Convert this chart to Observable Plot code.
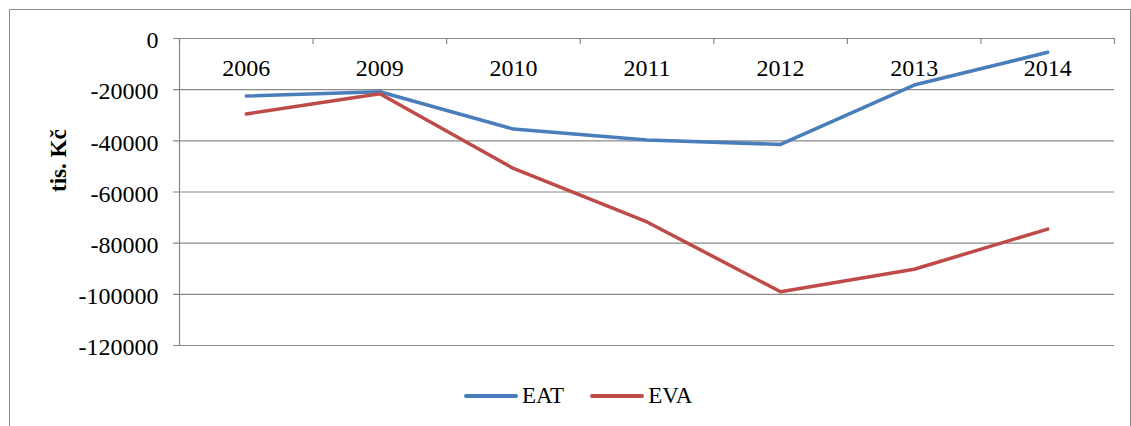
<!DOCTYPE html>
<html>
<head>
<meta charset="utf-8">
<script src="https://cdn.jsdelivr.net/npm/d3@7"></script>
<script src="https://cdn.jsdelivr.net/npm/@observablehq/plot@0.6"></script>
<style>
  html, body { margin: 0; padding: 0; background: #fff; }
  body { width: 1131px; height: 426px; position: relative; overflow: hidden; font-family: "Liberation Serif", "Times New Roman", serif; }
  #frame { position: absolute; left: 9px; top: 9px; width: 1120px; height: 440px; border: 1px solid #8a8a8a; }
  #chart { position: absolute; left: 0; top: 0; }
  #legend { position: absolute; left: 464px; top: 382px; height: 28px; display: flex; align-items: center; font-family: "Liberation Serif", "Times New Roman", serif; font-size: 23px; color: #000; }
  .item { display: flex; align-items: center; margin-right: 26px; }
  .sw { display: inline-block; width: 54px; height: 3.6px; border-radius: 2px; margin-right: 4px; }
  #chart svg text { font-family: "Liberation Serif", "Times New Roman", serif; }
</style>
</head>
<body>
<div id="frame"></div>
<div id="chart"></div>
<div id="legend"></div>
<script>
const years = ["2006", "2009", "2010", "2011", "2012", "2013", "2014"];
const eat = [-22500, -20800, -35400, -39700, -41400, -18200, -5400];
const eva = [-29500, -21600, -50800, -71700, -99000, -90200, -74500];
const yTicks = [0, -20000, -40000, -60000, -80000, -100000, -120000];
const seriesNames = ["EAT", "EVA"];
const colors = ["#4a7ebb", "#be4b48"];

const idx = years.map((_, i) => i);
const bounds = d3.range(years.length + 1).map(i => i - 0.5);
const rows = [];
idx.forEach(i => rows.push({s: "EAT", i, v: eat[i]}));
idx.forEach(i => rows.push({s: "EVA", i, v: eva[i]}));

const font = '"Liberation Serif", "Times New Roman", serif';
const grid = "#898989";

const chart = Plot.plot({
  width: 1131,
  height: 365,
  marginLeft: 179,
  marginRight: 17,
  marginTop: 38,
  marginBottom: 20,
  style: {fontFamily: font, fontSize: "24px", background: "transparent", color: "#000"},
  x: {type: "linear", domain: [-0.5, years.length - 0.5], axis: null},
  y: {domain: [-120000, 0], axis: null},
  color: {domain: seriesNames, range: colors},
  marks: [
    Plot.ruleY(yTicks, {y: d => d, x1: -0.5, x2: years.length - 0.5, stroke: grid, strokeWidth: 1.2, insetLeft: -6}),
    Plot.ruleX([-0.5], {x: d => d, y1: -120000, y2: 0, stroke: grid, strokeWidth: 1.2}),
    Plot.ruleX(bounds, {x: d => d, y1: 0, y2: 0, insetBottom: -6, stroke: grid, strokeWidth: 1.2}),
    Plot.text(yTicks, {x: -0.5, y: d => d, text: d => String(d), textAnchor: "end", dx: -21, dy: 2, fontSize: 24, fontFamily: font, fill: "#000"}),
    Plot.text(idx, {x: d => d, y: 0, text: d => years[d], dy: 29.5, fontSize: 24, fontFamily: font, fill: "#000"}),
    Plot.text(["tis. Kč"], {frameAnchor: "left", text: d => d, rotate: -90, dx: -121, fontSize: 23, fontWeight: "bold", fontFamily: font, fill: "#000"}),
    Plot.line(rows, {x: "i", y: "v", z: "s", stroke: "s", strokeWidth: 3.5, strokeLinejoin: "round", strokeLinecap: "round"})
  ]
});
document.getElementById("chart").appendChild(chart);

const legend = document.getElementById("legend");
seriesNames.forEach((n, k) => {
  const it = document.createElement("div");
  it.className = "item";
  const sw = document.createElement("span");
  sw.className = "sw";
  sw.style.background = colors[k];
  const t = document.createElement("span");
  t.textContent = n;
  it.appendChild(sw);
  it.appendChild(t);
  legend.appendChild(it);
});
</script>
</body>
</html>
